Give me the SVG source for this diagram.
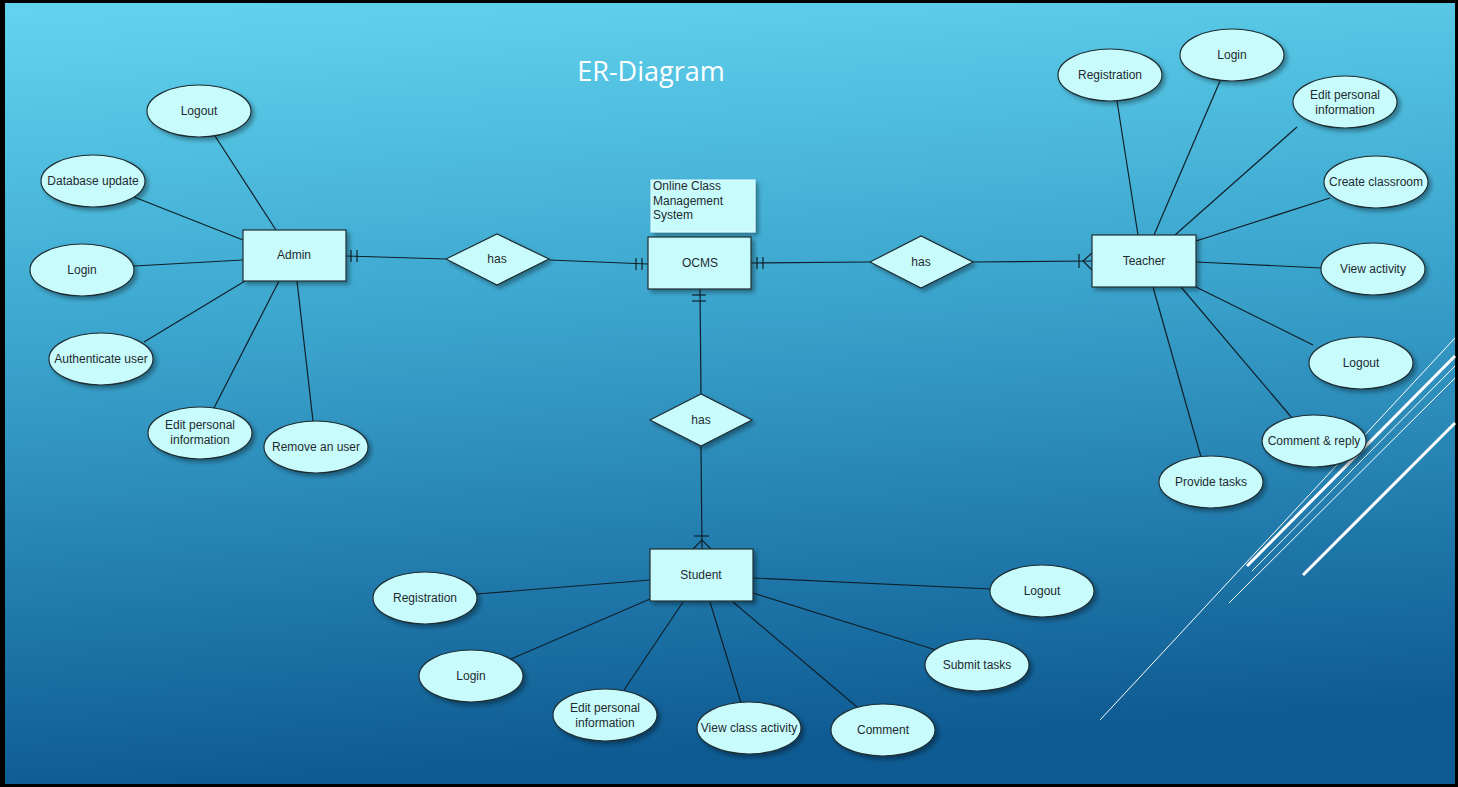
<svg xmlns="http://www.w3.org/2000/svg" width="1458" height="787" viewBox="0 0 1458 787">
<defs>
<linearGradient id="bg" x1="0" y1="0" x2="0.12" y2="1">
<stop offset="0" stop-color="#62d4ef"/>
<stop offset="0.45" stop-color="#3aa3cc"/>
<stop offset="1" stop-color="#0e5b93"/>
</linearGradient>
<filter id="sh" x="-20%" y="-20%" width="150%" height="160%">
<feDropShadow dx="3" dy="3" stdDeviation="2" flood-color="#000" flood-opacity="0.35"/>
</filter>
<filter id="fr" x="-5%" y="-5%" width="110%" height="110%">
<feDropShadow dx="0" dy="0" stdDeviation="3" flood-color="#000" flood-opacity="0.8"/>
</filter>
<style>
.e{fill:#c8fcfc;stroke:#1e2d33;stroke-width:1.2;filter:url(#sh)}
.r{fill:#c8fcfc;stroke:#1e2d33;stroke-width:1.2;filter:url(#sh)}
.t{font-family:"Liberation Sans",Arial,sans-serif;font-size:12px;fill:#1f2a30;text-anchor:middle}
.c line,.c path{stroke:#10202a;stroke-width:1.2;fill:none}
.w{stroke:#ffffff;fill:none}
</style>
</defs>
<rect x="0" y="0" width="1458" height="787" fill="#000"/>
<rect x="5" y="3" width="1450" height="781" fill="url(#bg)" filter="url(#fr)"/>
<rect x="5" y="3" width="1450" height="781" fill="url(#bg)"/>
<text x="651" y="81" font-family="Open Sans, Lato, sans-serif" font-size="27" fill="#ffffff" text-anchor="middle">ER-Diagram</text>

<g id="deco">
<line class="w" x1="1100" y1="720" x2="1455" y2="338" stroke-width="1"/>
<line class="w" x1="1247" y1="566" x2="1455" y2="356" stroke-width="3"/>
<line class="w" x1="1252" y1="571" x2="1455" y2="366" stroke-width="1"/>
<line class="w" x1="1229" y1="603" x2="1455" y2="378" stroke-width="1"/>
<line class="w" x1="1303" y1="575" x2="1455" y2="423" stroke-width="3"/>
</g>

<g class="c" id="connectors">
<line x1="215" y1="136" x2="276" y2="230"/>
<line x1="134" y1="197" x2="243" y2="240"/>
<line x1="134" y1="266" x2="243" y2="260"/>
<line x1="144" y1="342" x2="245" y2="281"/>
<line x1="214" y1="408" x2="279" y2="281"/>
<line x1="313" y1="421" x2="297" y2="281"/>
<line x1="1117" y1="101" x2="1138" y2="235"/>
<line x1="1220" y1="81" x2="1154" y2="235"/>
<line x1="1297" y1="127" x2="1175" y2="235"/>
<line x1="1330" y1="198" x2="1196" y2="241"/>
<line x1="1322" y1="268" x2="1196" y2="262"/>
<line x1="1313" y1="345" x2="1196" y2="287"/>
<line x1="1292" y1="418" x2="1181" y2="287"/>
<line x1="1201" y1="457" x2="1153" y2="287"/>
<line x1="477" y1="594" x2="650" y2="580"/>
<line x1="511" y1="659" x2="650" y2="599"/>
<line x1="624" y1="690" x2="683" y2="602"/>
<line x1="741" y1="703" x2="710" y2="602"/>
<line x1="857" y1="707" x2="733" y2="602"/>
<line x1="936" y1="650" x2="753" y2="593"/>
<line x1="991" y1="589" x2="753" y2="578"/>
<line x1="346" y1="256" x2="446" y2="259"/>
<line x1="351" y1="250" x2="351" y2="262"/>
<line x1="357" y1="250" x2="357" y2="262"/>
<line x1="549" y1="260" x2="648" y2="264"/>
<line x1="636" y1="258" x2="636" y2="270"/>
<line x1="642" y1="258" x2="642" y2="270"/>
<line x1="751" y1="263" x2="870" y2="262"/>
<line x1="757" y1="257" x2="757" y2="269"/>
<line x1="763" y1="257" x2="763" y2="269"/>
<line x1="973" y1="262" x2="1092" y2="261"/>
<line x1="1079" y1="254" x2="1079" y2="268"/>
<path d="M1092 253 L1083 261 L1092 270"/>
<line x1="700" y1="289" x2="701" y2="394"/>
<line x1="692" y1="295" x2="706" y2="295"/>
<line x1="692" y1="301" x2="706" y2="301"/>
<line x1="701" y1="446" x2="702" y2="549"/>
<line x1="694" y1="536" x2="709" y2="536"/>
<path d="M693 549 L702 540 L711 549"/>
</g>

<g id="note">
<rect x="651" y="180" width="104" height="52" fill="#c8fcfc" stroke="#e6ffff" stroke-width="1" filter="url(#sh)"/>
<text x="653" y="190" font-family="Liberation Sans, Arial, sans-serif" font-size="12" fill="#1f2a30">Online Class</text>
<text x="653" y="205" font-family="Liberation Sans, Arial, sans-serif" font-size="12" fill="#1f2a30">Management</text>
<text x="653" y="219" font-family="Liberation Sans, Arial, sans-serif" font-size="12" fill="#1f2a30">System</text>
</g>

<g id="admin"><rect class="r" x="243" y="230" width="103" height="51"/><text class="t" x="294" y="259">Admin</text></g>
<g id="ocms"><rect class="r" x="648" y="237" width="103" height="52"/><text class="t" x="700" y="267">OCMS</text></g>
<g id="teacher"><rect class="r" x="1092" y="235" width="104" height="52"/><text class="t" x="1144" y="265">Teacher</text></g>
<g id="student"><rect class="r" x="650" y="549" width="103" height="52"/><text class="t" x="701" y="579">Student</text></g>

<g id="has1"><path class="e" d="M446 259 L497 234 L549 259 L497 285 Z"/><text class="t" x="497" y="263">has</text></g>
<g id="has2"><path class="e" d="M870 262 L921 236 L973 262 L921 288 Z"/><text class="t" x="921" y="266">has</text></g>
<g id="has3"><path class="e" d="M650 420 L701 394 L752 420 L701 446 Z"/><text class="t" x="701" y="424">has</text></g>

<g id="a-logout"><ellipse class="e" cx="199" cy="111" rx="52" ry="26"/><text class="t" x="199" y="115">Logout</text></g>
<g id="a-db"><ellipse class="e" cx="93" cy="181" rx="52" ry="26"/><text class="t" x="93" y="185">Database update</text></g>
<g id="a-login"><ellipse class="e" cx="82" cy="270" rx="52" ry="26"/><text class="t" x="82" y="274">Login</text></g>
<g id="a-auth"><ellipse class="e" cx="101" cy="359" rx="52" ry="26"/><text class="t" x="101" y="363">Authenticate user</text></g>
<g id="a-edit"><ellipse class="e" cx="200" cy="433" rx="52" ry="26"/><text class="t" x="200" y="429">Edit personal</text><text class="t" x="200" y="444">information</text></g>
<g id="a-remove"><ellipse class="e" cx="316" cy="447" rx="52" ry="26"/><text class="t" x="316" y="451">Remove an user</text></g>

<g id="t-reg"><ellipse class="e" cx="1110" cy="75" rx="52" ry="26"/><text class="t" x="1110" y="79">Registration</text></g>
<g id="t-login"><ellipse class="e" cx="1232" cy="55" rx="52" ry="26"/><text class="t" x="1232" y="59">Login</text></g>
<g id="t-edit"><ellipse class="e" cx="1345" cy="102" rx="52" ry="26"/><text class="t" x="1345" y="99">Edit personal</text><text class="t" x="1345" y="114">information</text></g>
<g id="t-create"><ellipse class="e" cx="1376" cy="182" rx="52" ry="26"/><text class="t" x="1376" y="186">Create classroom</text></g>
<g id="t-view"><ellipse class="e" cx="1373" cy="269" rx="52" ry="26"/><text class="t" x="1373" y="273">View activity</text></g>
<g id="t-logout"><ellipse class="e" cx="1361" cy="363" rx="52" ry="26"/><text class="t" x="1361" y="367">Logout</text></g>
<g id="t-comment"><ellipse class="e" cx="1314" cy="441" rx="52" ry="26"/><text class="t" x="1314" y="445">Comment &amp; reply</text></g>
<g id="t-provide"><ellipse class="e" cx="1211" cy="482" rx="52" ry="26"/><text class="t" x="1211" y="486">Provide tasks</text></g>

<g id="s-reg"><ellipse class="e" cx="425" cy="598" rx="52" ry="26"/><text class="t" x="425" y="602">Registration</text></g>
<g id="s-login"><ellipse class="e" cx="471" cy="676" rx="52" ry="26"/><text class="t" x="471" y="680">Login</text></g>
<g id="s-edit"><ellipse class="e" cx="605" cy="715" rx="52" ry="26"/><text class="t" x="605" y="712">Edit personal</text><text class="t" x="605" y="727">information</text></g>
<g id="s-view"><ellipse class="e" cx="749" cy="728" rx="52" ry="26"/><text class="t" x="749" y="732">View class activity</text></g>
<g id="s-comment"><ellipse class="e" cx="883" cy="730" rx="52" ry="26"/><text class="t" x="883" y="734">Comment</text></g>
<g id="s-submit"><ellipse class="e" cx="977" cy="665" rx="52" ry="26"/><text class="t" x="977" y="669">Submit tasks</text></g>
<g id="s-logout"><ellipse class="e" cx="1042" cy="591" rx="52" ry="26"/><text class="t" x="1042" y="595">Logout</text></g>
</svg>
